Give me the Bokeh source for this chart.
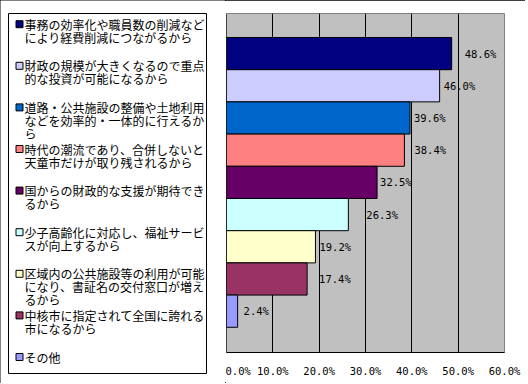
from bokeh.plotting import figure
from bokeh.models import Range1d, FixedTicker, PrintfTickFormatter, Span
from bokeh.layouts import row, column
from bokeh.embed import file_html
from bokeh.resources import INLINE
from bokeh.core.properties import value

# ---- data ----
reasons = [
    "事務の効率化や職員数の削減など\nにより経費削減につながるから",
    "財政の規模が大きくなるので重点\n的な投資が可能になるから",
    "道路・公共施設の整備や土地利用\nなどを効率的・一体的に行えるか\nら",
    "時代の潮流であり、合併しないと\n天童市だけが取り残されるから",
    "国からの財政的な支援が期待でき\nるから",
    "少子高齢化に対応し、福祉サービ\nスが向上するから",
    "区域内の公共施設等の利用が可能\nになり、書証名の交付窓口が増え\nるから",
    "中核市に指定されて全国に誇れる\n市になるから",
    "その他",
]
percent = [48.6, 46.0, 39.6, 38.4, 32.5, 26.3, 19.2, 17.4, 2.4]
x_ticks = [0, 10, 20, 30, 40, 50, 60]

# ---- styles ----
colors = ["#000080", "#CCCCFF", "#0066CC", "#FF8080", "#660066",
          "#CCFFFF", "#FFFFCC", "#993366", "#9999FF"]
label_nudge_px = [13, 4, 4, 10, 3, 18, 4, 12, 6]
JP = "Noto Sans CJK JP"
NUM = "DejaVu Sans Mono"

n = len(percent)
pos = [n - 1 - i for i in range(n)]
label_text = [f"{v:.1f}%" for v in percent]

# ---- legend panel (pixel coordinates, y downward) ----
LW, H = 225, 383
L = figure(width=LW, height=H, x_range=Range1d(0, LW), y_range=Range1d(H, 0),
           output_backend="svg", toolbar_location=None,
           x_axis_location=None, y_axis_location=None,
           min_border=0, outline_line_color=None)
L.grid.visible = False
L.quad(left=8, right=206, top=13, bottom=373,
       fill_color="white", line_color="black", line_width=1)

first, pitch, lh = 23.7, 41.6, 13.0
mk_y, tx, ty, tt = [], [], [], []
for i, r in enumerate(reasons):
    y0 = first + i * pitch
    mk_y.append(y0)
    for j, line in enumerate(r.split("\n")):
        tx.append(24)
        ty.append(y0 + j * lh)
        tt.append(line)
L.rect(x=[19] * n, y=mk_y, width=7, height=7,
       fill_color=colors, line_color="black", line_width=1)
L.text(x=tx, y=ty, text=tt, text_font=value(JP), text_font_size="12px",
       text_baseline="middle", text_align="left", text_color="black")

# ---- chart panel ----
R = figure(width=300, height=H, x_range=Range1d(0, 60),
           y_range=Range1d(-1.283, 9.245),
           output_backend="svg", toolbar_location=None,
           y_axis_location=None,
           min_border_left=1, min_border_right=21,
           min_border_top=13, min_border_bottom=31,
           background_fill_color="#C0C0C0",
           outline_line_color="#808080", outline_line_width=1)

R.xgrid.ticker = FixedTicker(ticks=x_ticks)
R.xgrid.grid_line_color = "black"
R.xgrid.grid_line_width = 1
R.ygrid.visible = False

R.hbar(y=pos, left=0, right=percent, height=1.0,
       fill_color=colors, line_color="black", line_width=1)

lbl = R.text(x=percent, y=pos, text=label_text, x_offset=label_nudge_px,
             text_font=value(NUM), text_font_size="10.5px",
             text_baseline="middle", text_align="left", text_color="black")
lbl.level = "image"

R.add_layout(Span(location=0, dimension="height", line_color="black", line_width=1))

ax = R.xaxis[0]
ax.ticker = FixedTicker(ticks=x_ticks)
ax.formatter = PrintfTickFormatter(format="%.1f%%")
ax.major_tick_out = 0
ax.major_tick_in = 0
ax.minor_tick_line_color = None
ax.axis_line_color = "black"
ax.axis_line_width = 1
ax.major_label_text_font = NUM
ax.major_label_text_font_size = "10.5px"
ax.major_label_text_color = "black"
ax.major_label_standoff = 12

layout = row(column(L), column(R),
             styles={"outline": "1px solid black", "outline-offset": "-1px"})

open("out.html", "w").write(file_html(layout, INLINE))
